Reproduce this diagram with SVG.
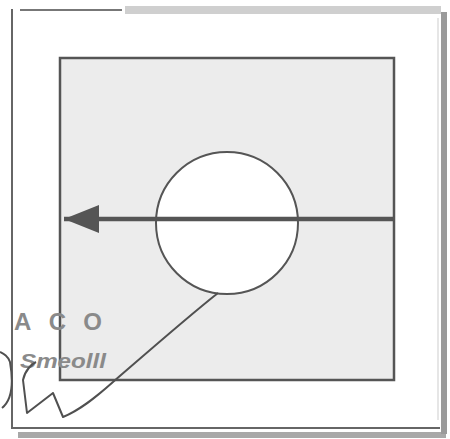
<svg xmlns="http://www.w3.org/2000/svg" width="450" height="439" viewBox="0 0 450 439">
<style>
.frame{fill:none;stroke:#666;stroke-width:2}
.edge{fill:none;stroke:#505050;stroke-width:2;stroke-linejoin:round}
.lbl{font-family:"Liberation Sans",Arial,sans-serif;fill:#8a8a8a;font-weight:bold}
</style>
<defs>
<marker id="ah" viewBox="0 0 36 32" refX="35" refY="16" markerWidth="36" markerHeight="32" markerUnits="userSpaceOnUse" orient="auto">
<path d="M35,16 L0,2 L0,30 Z" fill="#555"/>
</marker>
</defs>
<rect width="450" height="439" fill="#ffffff"/>
<g id="frame">
<line x1="125" y1="10" x2="441" y2="10" stroke="#cfcfcf" stroke-width="8"/>
<line x1="20" y1="10" x2="122" y2="10" stroke="#777" stroke-width="2"/>
<line x1="12" y1="9" x2="12" y2="429" class="frame"/>
<line x1="12" y1="428" x2="440" y2="428" class="frame"/>
<line x1="18" y1="435" x2="446" y2="435" stroke="#a8a8a8" stroke-width="6"/>
<line x1="444" y1="12" x2="444" y2="434" stroke="#9a9a9a" stroke-width="6"/>
<line x1="438" y1="18" x2="438" y2="420" stroke="#e6e6e6" stroke-width="2"/>
</g>
<g id="box">
<rect x="60" y="58" width="334" height="322" fill="#ececec" stroke="#555" stroke-width="2.5"/>
</g>
<g id="label">
<text x="14" y="330" class="lbl" font-size="24" textLength="88" lengthAdjust="spacing">ACO</text>
<text x="20" y="368" class="lbl" font-size="20" font-style="italic" textLength="86" lengthAdjust="spacingAndGlyphs">Smeolll</text>
</g>
<g id="circle">
<circle cx="227" cy="223" r="71" fill="#ffffff" stroke="#555" stroke-width="2"/>
</g>
<g id="connectors">
<line x1="395" y1="219" x2="64" y2="219" stroke="#555" stroke-width="4.5" marker-end="url(#ah)"/>
<path class="edge" d="M218,293 C190,315 150,350 113,382 C95,398 80,410 63,417 L53,393 L27,413 L23,380 C25,370 32,364 36,362 M2,408 C12,400 14,385 10,362 C8,356 4,354 0,352"/>
</g>
</svg>
